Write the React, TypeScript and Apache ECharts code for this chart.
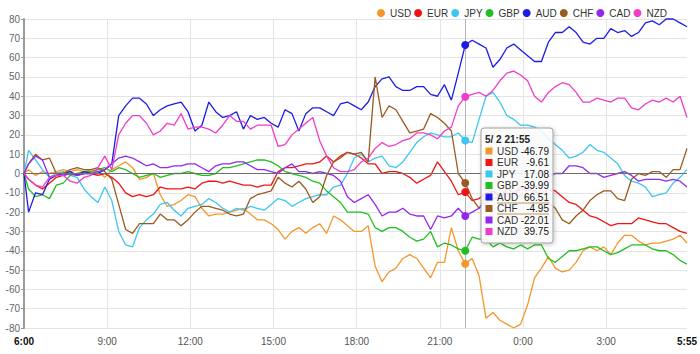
import React, { useEffect, useRef } from "react";
import * as echarts from "echarts";

// ---- data -----------------------------------------------------------------
const currencies = ["USD", "EUR", "JPY", "GBP", "AUD", "CHF", "CAD", "NZD"];
const seriesColors = ["#f5962a", "#f01414", "#3cc6f2", "#22bf22", "#1c1ce6", "#9a5b1e", "#9428f0", "#f03cc8"];

// 5-minute steps after 6:00 at which values were read (0 .. 287 = 5:55)
const sampleSteps = [0, ...Array.from({ length: 96 }, (_, i) => 2 + i * 3)];

const xTickSteps = [0, 36, 72, 108, 144, 180, 216, 252, 287];
const xTickLabels = ["6:00", "9:00", "12:00", "15:00", "18:00", "21:00", "0:00", "3:00", "5:55"];

const usd = [0, 2, -1, 1, 0, 1, 2, 1, 2, 1, 2, 1, -2, 2, 4, 6, 3, -3, -2, 0, -11, -17, -16, -14, -11, -12, -18, -22, -21, -21, -20, -19, -18, -21, -24, -24, -26, -29, -34, -30, -28, -31, -28, -26, -31, -22, -24, -27, -30, -30, -27, -48, -56, -51, -49, -44, -42, -44, -49, -54, -46, -46, -28, -40, -46.79, -44, -53, -75, -72, -76, -78, -80, -78, -68, -54, -49, -43, -49, -51, -50, -46, -40, -38, -40, -38, -42, -36, -32, -32, -35, -37, -36, -36, -35, -34, -32, -36];
const eur = [0, -3, -6, -8, -5, -2, -1, 0, -1, 0, 0, -1, 0, -2, -5, -10, -12, -11, -12, -11, -7, -8, -8, -8, -7, -8, -5, -4, -4, -5, -4, -5, -6, -6, -7, -6, -6, 1, 3, 3, 4, 5, 5, 6, 9, 6, 9, 11, 10, 8, 5, 5, 0, 1, 1, 0, -2, -5, -3, -1, 6, 1, -4, -11, -9.61, -14, -13, -10, -9, -12, -8, -10, -7, -8, -9, -11, -8, -9, -12, -15, -16, -19, -22, -23, -25, -27, -26, -26, -26, -23, -24, -25, -26, -26, -28, -30, -31];
const jpy = [0, 12, 7, 2, -2, 0, 1, -1, -2, -8, -12, -15, -7, -14, -30, -37, -38, -28, -24, -21, -16, -15, -19, -22, -18, -17, -16, -13, -15, -18, -20, -18, -19, -17, -18, -19, -16, -13, -14, -17, -15, -13, -12, -11, -11, -7, -6, 0, 8, 10, 6, 8, 9, 4, 3, 6, 11, 16, 19, 21, 20, 19, 19, 21, 17.08, 16, 28, 40, 42, 37, 30, 28, 25, 25, 24, 22, 18, 15, 12, 8, 9, 11, 15, 12, 11, 8, 5, -1, -4, -5, -7, -12, -11, -10, -5, -2, 2];
const gbp = [0, -8, -12, -11, -13, -6, -5, -1, 0, 1, 1, 2, 3, 1, 3, 2, 0, -2, -1, 0, -2, -1, 0, 0, 1, 0, -1, -1, 0, 3, 3, 4, 5, 6, 7, 7, 6, 4, 1, 0, -1, -2, -4, -5, -9, -12, -15, -20, -20, -20, -21, -28, -30, -28, -28, -30, -33, -35, -34, -30, -38, -36, -37, -39, -39.99, -33, -34, -34, -38, -36, -38, -39, -37, -39, -37, -37, -44, -46, -43, -40, -40, -39, -38, -38, -40, -42, -41, -39, -37, -37, -37, -39, -40, -40, -42, -45, -47];
const aud = [0, -20, -10, -11, -3, -1, 0, 1, -1, 1, 0, 0, 2, 5, 30, 35, 39, 39, 36, 30, 33, 35, 36, 37, 32, 22, 25, 37, 32, 29, 30, 32, 23, 30, 28, 29, 26, 24, 33, 31, 22, 31, 34, 34, 32, 30, 36, 37, 35, 33, 37, 45, 49, 50, 45, 43, 43, 45, 45, 41, 40, 46, 38, 52, 66.51, 69, 67, 65, 55, 59, 65, 67, 64, 61, 58, 58, 68, 73, 73, 76, 73, 68, 67, 70, 70, 75, 73, 74, 71, 73, 78, 79, 77, 80, 80, 78, 76];
const chf = [0, 5, 10, 7, 8, 0, 0, 2, 3, 2, 2, 3, 1, -3, -16, -29, -31, -26, -26, -26, -21, -24, -24, -27, -24, -20, -17, -17, -18, -19, -21, -22, -21, -13, -11, -10, -9, -2, -5, -7, -4, -8, -15, -12, -1, 6, 8, 11, 10, 11, 6, 50, 29, 35, 33, 27, 21, 22, 23, 31, 29, 26, 22, 0, -4.95, -13, -18, -12, -9, -12, -10, -14, -11, -13, -9, -12, -15, -18, -24, -26, -22, -19, -14, -11, -9, -9, -13, -14, -3, 0, -1, 1, 1, -2, 2, 2, 13];
const cad = [0, 5, 9, 7, -2, -1, -1, 0, -1, 0, 0, 1, 2, 5, 8, 9, 8, 6, 4, 5, 3, 3, 4, 4, 5, 5, 3, 1, 4, 5, 5, 6, 6, 4, 2, 2, 1, 0, 3, 5, 1, 1, 0, 1, 0, -1, -4, -12, -15, -13, -11, -16, -22, -20, -20, -18, -21, -22, -22, -29, -22, -23, -22, -18, -22.01, -20, -18, -15, -13, -12, -10, -11, -8, -9, -7, -6, -2, 0, 0, 4, 4, 3, 0, 0, -2, -1, 0, 1, -1, -4, -3, -3, -3, -4, -3, -4, -7];
const nzd = [0, -3, -6, -7, -2, -1, -1, -4, -5, -2, -1, 3, 9, 2, 20, 26, 30, 30, 26, 20, 22, 26, 25, 31, 23, 24, 24, 23, 21, 25, 30, 27, 27, 23, 25, 25, 25, 14, 15, 20, 23, 26, 29, 17, 9, 3, 1, 1, 2, 6, 8, 13, 16, 14, 15, 17, 18, 21, 21, 20, 18, 22, 24, 35, 39.75, 41, 42, 40, 43, 48, 52, 53, 51, 48, 40, 37, 42, 45, 47, 46, 42, 37, 37, 39, 38, 37, 39, 39, 34, 33, 36, 38, 37, 39, 37, 40, 29];

const seriesValues = [usd, eur, jpy, gbp, aud, chf, cad, nzd];

// hovered point shown in the tooltip
const hoverStep = 191;
const hoverTitle = "5/ 2 21:55";

const FONT = "Arial, 'Liberation Sans', sans-serif";

export default function App() {
  const ref = useRef<HTMLDivElement | null>(null);

  useEffect(() => {
    if (!ref.current) return;
    document.body.style.margin = "0";
    const chart = echarts.init(ref.current, null, { renderer: "svg" });
    const hoverIdx = sampleSteps.indexOf(hoverStep);

    const series: any[] = currencies.map((name, k) => {
      const s: any = {
        name,
        type: "line",
        data: sampleSteps.map((st, i) => [st, seriesValues[k][i]]),
        showSymbol: false,
        symbol: "none",
        clip: false,
        silent: true,
        lineStyle: { width: 1.3, color: seriesColors[k] },
        itemStyle: { color: seriesColors[k] },
        markPoint: {
          symbol: "circle",
          symbolSize: 8,
          silent: true,
          label: { show: false },
          itemStyle: { color: seriesColors[k] },
          data: [{ coord: [hoverStep, seriesValues[k][hoverIdx]] }],
        },
      };
      if (k === 0) {
        s.markLine = {
          silent: true,
          symbol: ["none", "none"],
          label: { show: false },
          lineStyle: { type: "solid" },
          data: [
            { yAxis: 0, lineStyle: { color: "#6e6e6e", width: 1, type: "solid" } },
            { xAxis: hoverStep, lineStyle: { color: "#b4b4b4", width: 1, type: "solid" } },
          ],
        };
      }
      return s;
    });

    // tooltip box drawn with graphic elements
    const tipX = 481;
    const tipY = 128;
    const rowH = 11.5;
    const graphic: any[] = [
      {
        type: "rect",
        z: 100,
        shape: { x: tipX, y: tipY, width: 72, height: 115, r: 3 },
        style: {
          fill: "rgba(255,255,255,0.86)",
          stroke: "#a0a0a0",
          lineWidth: 1,
          shadowBlur: 4,
          shadowColor: "rgba(0,0,0,0.25)",
          shadowOffsetX: 1,
          shadowOffsetY: 1,
        },
      },
      {
        type: "text",
        z: 101,
        x: tipX + 4,
        y: tipY + 11,
        style: {
          text: hoverTitle,
          fontSize: 10,
          fontWeight: "bold",
          fontFamily: FONT,
          fill: "#222",
          align: "left",
          textAlign: "left",
          verticalAlign: "middle",
          textVerticalAlign: "middle",
        },
      },
    ];
    currencies.forEach((name, k) => {
      const cy = tipY + 23 + k * rowH;
      graphic.push({
        type: "rect",
        z: 101,
        shape: { x: tipX + 4.5, y: cy - 3.5, width: 7, height: 7 },
        style: { fill: seriesColors[k] },
      });
      graphic.push({
        type: "text",
        z: 101,
        x: tipX + 16,
        y: cy,
        style: {
          text: name,
          fontSize: 10,
          fontFamily: FONT,
          fill: "#333",
          align: "left",
          textAlign: "left",
          verticalAlign: "middle",
          textVerticalAlign: "middle",
        },
      });
      graphic.push({
        type: "text",
        z: 101,
        x: tipX + 68,
        y: cy,
        style: {
          text: seriesValues[k][hoverIdx].toFixed(2),
          fontSize: 10,
          fontFamily: FONT,
          fill: "#111",
          align: "right",
          textAlign: "right",
          verticalAlign: "middle",
          textVerticalAlign: "middle",
        },
      });
    });
    const chfRow = currencies.indexOf("CHF");
    [-5.5, 5.5].forEach((d) => {
      const yy = tipY + 23 + chfRow * rowH + d;
      graphic.push({
        type: "line",
        z: 101,
        shape: { x1: tipX + 16, y1: yy, x2: tipX + 68, y2: yy },
        style: { stroke: "rgba(170,120,40,0.75)", lineWidth: 1 },
      });
    });

    chart.setOption({
      animation: false,
      backgroundColor: "#ffffff",
      textStyle: { fontFamily: FONT },
      grid: { left: 24, right: 13, top: 19, bottom: 26, containLabel: false },
      legend: {
        data: currencies,
        right: 28,
        top: 3,
        icon: "circle",
        itemWidth: 8,
        itemHeight: 8,
        itemGap: 3,
        selectedMode: false,
        textStyle: { fontSize: 10, color: "#333", fontFamily: FONT },
      },
      xAxis: {
        type: "value",
        min: 0,
        max: 287,
        interval: 36,
        axisLine: { show: false, onZero: false },
        axisTick: { show: false },
        splitLine: { show: true, showMaxLine: false, lineStyle: { color: "#e4e4e4", width: 1 } },
        axisLabel: {
          margin: 8,
          fontSize: 10,
          color: "#555",
          fontFamily: FONT,
          showMinLabel: true,
          showMaxLabel: true,
          formatter: (v: number) => {
            const i = xTickSteps.indexOf(Math.round(v));
            const t = i >= 0 ? xTickLabels[i] : "";
            if (i === 0 || i === xTickSteps.length - 1) return "{b|" + t + "}";
            return t;
          },
          rich: {
            b: { fontWeight: "bold", color: "#111", fontSize: 10, fontFamily: FONT },
          },
        },
      },
      yAxis: {
        type: "value",
        min: -80,
        max: 80,
        interval: 10,
        axisLine: { show: true, lineStyle: { color: "#9a9a9a", width: 2 } },
        axisTick: { show: true, length: 3, lineStyle: { color: "#9a9a9a" } },
        splitLine: { show: true, lineStyle: { color: "#e4e4e4", width: 1 } },
        axisLabel: { margin: 4, fontSize: 10, color: "#666", fontFamily: FONT },
      },
      tooltip: { show: false },
      series,
      graphic,
    });

    return () => chart.dispose();
  }, []);

  return (
    <div style={{ position: "fixed", left: 0, top: 0, width: 700, height: 354, background: "#fff" }}>
      <div ref={ref} style={{ width: 700, height: 354 }} />
    </div>
  );
}
